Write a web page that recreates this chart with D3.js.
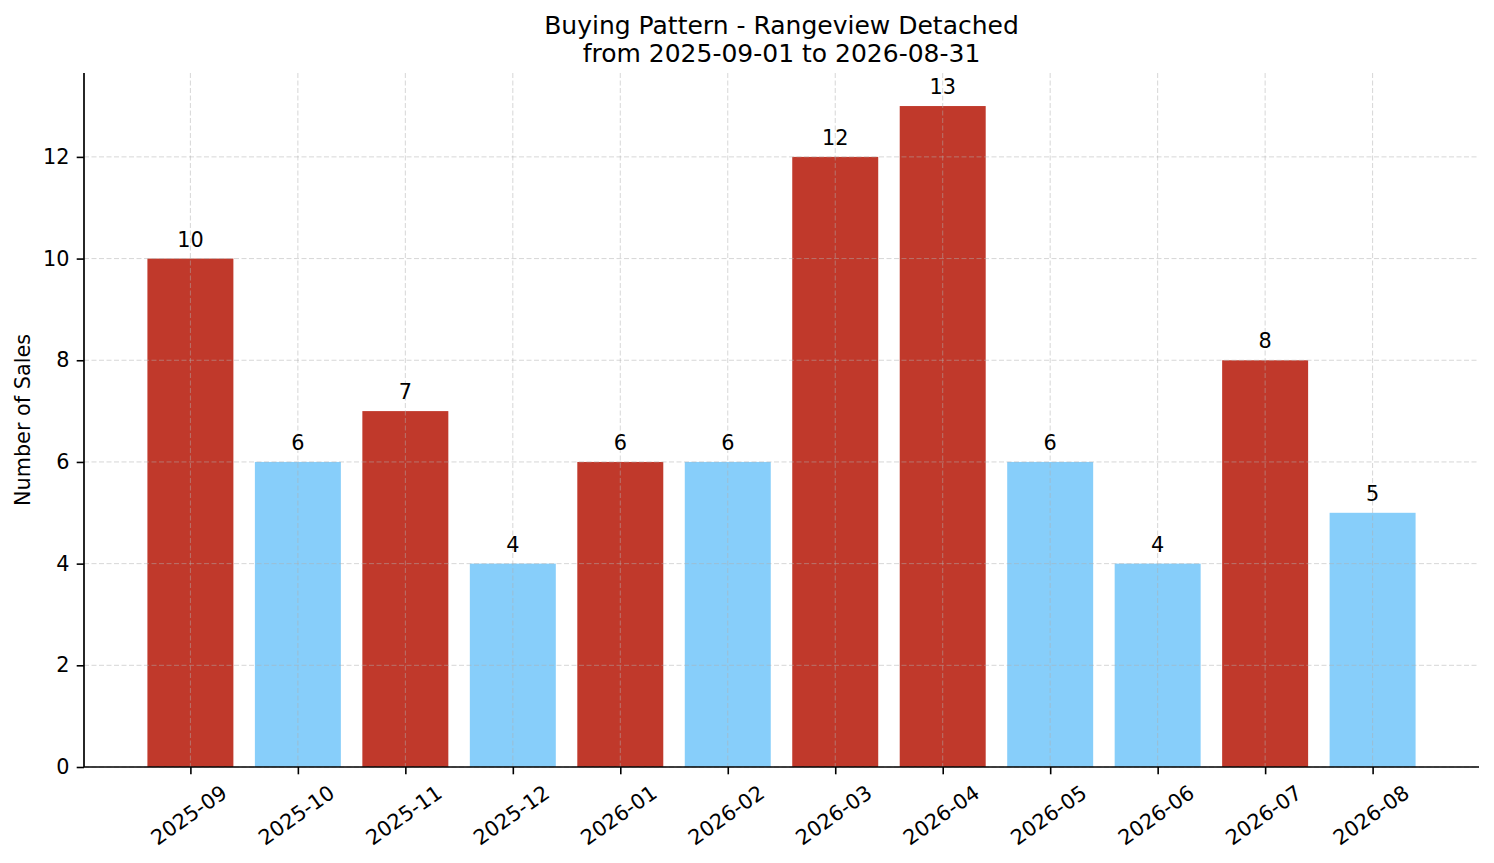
<!DOCTYPE html>
<html>
<head>
<meta charset="utf-8">
<script src="https://cdn.jsdelivr.net/npm/d3@7"></script>
<style>
  body { margin: 0; background: #fff; }
  text { font-family: "DejaVu Sans", sans-serif; fill: #000; }
</style>
</head>
<body>
<svg class="chart" width="1494" height="863"></svg>
<script>
var months = ["2025-09", "2025-10", "2025-11", "2025-12", "2026-01", "2026-02",
  "2026-03", "2026-04", "2026-05", "2026-06", "2026-07", "2026-08"];
var sales = [10, 6, 7, 4, 6, 6, 12, 13, 6, 4, 8, 5];
// which bars are drawn red (the rest are light blue)
var highlighted = [true, false, true, false, true, false, true, true, false, false, true, false];
var yTicks = [0, 2, 4, 6, 8, 10, 12];

var svg = d3.select(".chart"),
  margin = { top: 73, right: 15, bottom: 96, left: 84 },
  width = +svg.attr("width") - margin.left - margin.right,
  height = +svg.attr("height") - margin.top - margin.bottom,
  g = svg.append("g").attr("transform", "translate(" + margin.left + "," + margin.top + ")");

// matplotlib-like limits: bars span i-0.4..i+0.4, plus 5% margin
var n = months.length;
var lo = -0.4, hi = n - 1 + 0.4, pad = (hi - lo) * 0.05;
var x = d3.scaleLinear().domain([lo - pad, hi + pad]).range([0, width]);
var y = d3.scaleLinear().domain([0, d3.max(sales) * 1.05]).range([height, 0]);

var red = "#c0392b", blue = "#87cefa";
var tickFont = "20.8px";

// bars
g.selectAll(".bar")
  .data(sales)
  .enter()
  .append("rect")
  .attr("x", function(d, i) { return x(i - 0.4); })
  .attr("width", x(0.8) - x(0))
  .attr("y", function(d) { return y(d); })
  .attr("height", function(d) { return height - y(d); })
  .attr("fill", function(d, i) { return highlighted[i] ? red : blue; });

// grid on top of bars, like matplotlib default
var grid = g.append("g").attr("stroke", "#b0b0b0").attr("stroke-opacity", 0.5)
  .attr("stroke-width", 1).attr("stroke-dasharray", "5,2.5");
grid.selectAll(".gy").data(yTicks).enter().append("line")
  .attr("x1", 0).attr("x2", width)
  .attr("y1", function(d) { return y(d); }).attr("y2", function(d) { return y(d); });
grid.selectAll(".gx").data(months).enter().append("line")
  .attr("y1", 0).attr("y2", height)
  .attr("x1", function(d, i) { return x(i); }).attr("x2", function(d, i) { return x(i); });

// value labels
g.selectAll(".val")
  .data(sales)
  .enter()
  .append("text")
  .attr("x", function(d, i) { return x(i); })
  .attr("y", function(d) { return y(d) - 12; })
  .attr("text-anchor", "middle")
  .style("font-size", tickFont)
  .text(function(d) { return d; });

// y axis
var yAxis = g.append("g")
  .call(d3.axisLeft(y).tickValues(yTicks).tickSize(7.3).tickPadding(7.3).tickFormat(d3.format("d")));
yAxis.selectAll("text").style("font-size", tickFont).attr("fill", "#000");
yAxis.selectAll("line").attr("stroke", "#000").attr("stroke-width", 1.6);
yAxis.select(".domain").attr("stroke", "#000").attr("stroke-width", 1.7)
  .attr("d", "M0," + height + "V0");

// x axis
var xAxis = g.append("g")
  .attr("transform", "translate(0," + height + ")")
  .call(d3.axisBottom(x).tickValues(d3.range(n)).tickSize(7.3)
    .tickFormat(function(i) { return months[i]; }));
xAxis.select(".domain").attr("stroke", "#000").attr("stroke-width", 1.7)
  .attr("d", "M0,0H" + width);
xAxis.selectAll("line").attr("stroke", "#000").attr("stroke-width", 1.6);
xAxis.selectAll("text")
  .style("font-size", tickFont)
  .attr("fill", "#000")
  .attr("text-anchor", "middle")
  .attr("dy", "0.35em")
  .attr("y", 0)
  .attr("transform", "translate(-2,48) rotate(-35)");

// y label
svg.append("text")
  .attr("transform", "translate(30," + (margin.top + height / 2) + ") rotate(-90)")
  .attr("text-anchor", "middle")
  .style("font-size", tickFont)
  .text("Number of Sales");

// title
var cx = margin.left + width / 2;
svg.append("text").attr("x", cx).attr("y", 34).attr("text-anchor", "middle")
  .style("font-size", "25px").text("Buying Pattern - Rangeview Detached");
svg.append("text").attr("x", cx).attr("y", 62).attr("text-anchor", "middle")
  .style("font-size", "25px").text("from 2025-09-01 to 2026-08-31");
</script>
</body>
</html>
